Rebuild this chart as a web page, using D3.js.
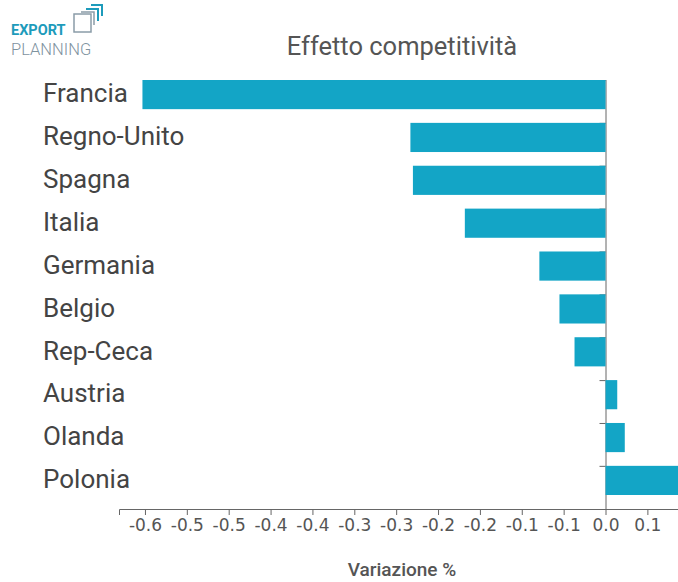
<!DOCTYPE html>
<html>
<head>
<meta charset="utf-8">
<script src="https://cdn.jsdelivr.net/npm/d3@7"></script>
<style>
	body { margin: 0; background: #fff; }
	svg { display: block; }
</style>
</head>
<body>
<div id="chart"></div>
<script>
var countries = ["Francia", "Regno-Unito", "Spagna", "Italia", "Germania", "Belgio", "Rep-Ceca", "Austria", "Olanda", "Polonia"];
var values = [-0.553, -0.233, -0.230, -0.168, -0.079, -0.055, -0.037, 0.014, 0.023, 0.10];
var tickValues = [-0.55, -0.5, -0.45, -0.4, -0.35, -0.3, -0.25, -0.2, -0.15, -0.1, -0.05, 0, 0.05];
var tickLabels = ["-0.6", "-0.5", "-0.5", "-0.4", "-0.4", "-0.3", "-0.3", "-0.2", "-0.2", "-0.1", "-0.1", "0.0", "0.1"];
var title = "Effetto competitività";
var xTitle = "Variazione %";

function drawLogo(svg) {
	var logo = svg.append("g").attr("transform", "translate(11,0)");
	logo.append("text").attr("x", 0).attr("y", 35).attr("font-family", "Roboto")
		.attr("font-weight", "bold").attr("font-size", 14.5).attr("fill", "#1d9bbb").text("EXPORT");
	logo.append("text").attr("x", 0).attr("y", 55).attr("font-family", "Roboto")
		.attr("font-weight", 300).attr("font-size", 16.5).attr("fill", "#7f939f").text("PLANNING");
	logo.append("rect").attr("x", 63).attr("y", 14).attr("width", 17).attr("height", 18)
		.attr("fill", "none").attr("stroke", "#8a9ca8").attr("stroke-width", 1.5);
	logo.append("path").attr("d", "M70,12 H83 V25").attr("fill", "none")
		.attr("stroke", "#8a9ca8").attr("stroke-width", 1.5);
	logo.append("path").attr("d", "M75,9 H87 V21").attr("fill", "none")
		.attr("stroke", "#1d9bbb").attr("stroke-width", 2);
	logo.append("path").attr("d", "M80,5 H91 V16").attr("fill", "none")
		.attr("stroke", "#1d9bbb").attr("stroke-width", 2);
}

function drawChart() {
	var svg = d3.select("#chart").append("svg").attr("width", 678).attr("height", 582);

	drawLogo(svg);

	svg.append("text").attr("x", 402).attr("y", 55).attr("text-anchor", "middle")
		.attr("font-family", "Roboto").attr("font-size", 25.5).attr("fill", "#555").text(title);

	var x = d3.scaleLinear().domain([-0.581, 0.12]).range([119, 706]);
	var y = d3.scaleBand().domain(countries).range([80, 495]).paddingInner(0.32).paddingOuter(0);
	var axisY = 509;

	// x axis
	var xAxis = svg.append("g").attr("transform", "translate(0," + axisY + ")")
		.call(d3.axisBottom(x).tickValues(tickValues).tickFormat(function (d, i) { return tickLabels[i]; }));
	xAxis.selectAll("path, line").attr("stroke", "#666");
	xAxis.selectAll("text").attr("font-family", "DejaVu Sans").attr("font-size", 17)
		.attr("fill", "#555").attr("dy", "0.75em");

	// y axis at zero, ticks at top of each bar
	var yAxis = svg.append("g").attr("transform", "translate(" + x(0) + ",0)")
		.call(d3.axisLeft(y).tickFormat("").tickSizeOuter(0));
	yAxis.select(".domain").attr("d", "M0.5," + y(countries[0]) + "V" + axisY);
	yAxis.selectAll(".tick").attr("transform", function (d) { return "translate(0," + (y(d) + 0.5) + ")"; });
	yAxis.selectAll("path, line").attr("stroke", "#666");

	svg.append("g").selectAll("rect").data(countries).enter().append("rect")
		.attr("x", function (d, i) { return x(Math.min(0, values[i])); })
		.attr("y", function (d) { return y(d); })
		.attr("width", function (d, i) { return Math.abs(x(values[i]) - x(0)); })
		.attr("height", y.bandwidth())
		.attr("fill", "#13a5c6");

	svg.append("g").selectAll("text").data(countries).enter().append("text")
		.attr("x", 43).attr("y", function (d) { return y(d) + y.bandwidth() / 2; })
		.attr("dy", "0.3em").attr("font-family", "Roboto").attr("font-size", 26)
		.attr("fill", "#444").text(function (d) { return d; });

	svg.append("text").attr("x", 402).attr("y", 576).attr("text-anchor", "middle")
		.attr("font-family", "Roboto").attr("font-weight", 500).attr("font-size", 19)
		.attr("fill", "#555").text(xTitle);
}

drawChart();
</script>
</body>
</html>
